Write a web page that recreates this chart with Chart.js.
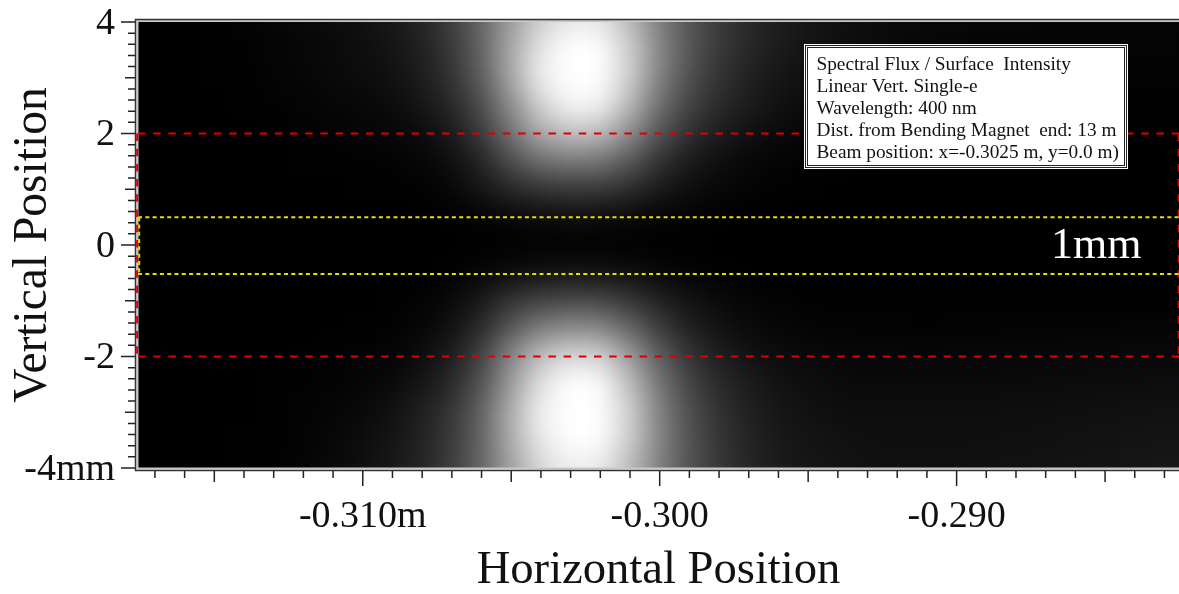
<!DOCTYPE html>
<html lang="en">
  <head>
    <meta charset="UTF-8" />
    <title>Spectral Flux / Surface Intensity</title>
    <script src="https://cdn.jsdelivr.net/npm/chart.js"></script>
    <style>
      body {
        margin: 0;
        background-color: #fff;
      }
      canvas {
        display: block;
      }
    </style>
  </head>
  <body>
    <canvas id="fluxChart" width="1179" height="594"></canvas>

    <script>
      // axis ranges and ticks (m horizontally, mm vertically)
      const xMin = -0.31757;
      const xMax = -0.28251;
      const xLabels = { "-0.31": "-0.310m", "-0.3": "-0.300", "-0.29": "-0.290" };
      const yLabels = { 4: "4", 2: "2", 0: "0", "-2": "-2", "-4": "-4mm" };

      // marker lines
      const redLevels = [2, -2];
      const yellowLevels = [0.5, -0.52];
      const redEdgesX = [-0.3176, -0.28252];
      const yellowEdgeX = -0.31753;

      const legendLines = [
        "Spectral Flux / Surface  Intensity",
        "Linear Vert. Single-e",
        "Wavelength: 400 nm",
        "Dist. from Bending Magnet  end: 13 m",
        "Beam position: x=-0.3025 m, y=0.0 m)",
      ];

      // intensity grid, grey level 0-255
      const gridX = [
        -0.318, -0.317, -0.316, -0.315, -0.314, -0.313, -0.312, -0.311, -0.31,
        -0.309, -0.308, -0.307, -0.306, -0.305, -0.304, -0.303, -0.302, -0.301,
        -0.3, -0.299, -0.298, -0.297, -0.296, -0.295, -0.294, -0.293, -0.292,
        -0.291, -0.29, -0.289, -0.288, -0.287, -0.286, -0.285, -0.284, -0.283,
        -0.282,
      ];
      const gridY = [4, 3.5, 3, 2.5, 2, 1.5, 1, 0.5, 0, -0.5, -1, -1.5, -2, -2.5, -3, -3.5, -4];
      const intensity = [
        [0,0,0,1,3,5,8,11,16,24,36,60,100,155,205,232,230,188,128,85,60,42,30,22,17,13,10,8,7,6,6,5,5,5,5,5,5],
        [0,0,0,1,2,4,7,10,14,20,32,56,98,165,228,255,255,208,138,88,58,40,28,20,15,11,9,7,6,5,5,4,4,4,4,4,4],
        [0,0,0,1,1,4,6,9,12,17,28,50,92,165,238,255,255,210,132,82,52,34,22,16,12,9,7,6,5,4,4,3,3,3,3,3,3],
        [0,0,0,0,1,2,4,6,8,12,21,40,76,140,210,248,245,188,115,70,44,28,18,12,9,7,5,4,3,3,2,2,2,2,2,2,2],
        [0,0,0,0,0,1,2,3,5,7,12,26,58,115,172,198,194,146,88,50,30,18,11,7,5,4,3,2,2,2,1,1,1,1,1,1,1],
        [0,0,0,0,0,0,1,1,2,3,6,15,36,78,114,126,122,92,53,28,15,8,4,3,2,1,1,1,0,0,0,0,0,0,0,0,0],
        [0,0,0,0,0,0,0,0,1,1,2,7,22,42,55,60,60,48,28,15,8,4,2,1,0,0,0,0,0,0,0,0,0,0,0,0,0],
        [0,0,0,0,0,0,0,0,0,0,0,1,4,9,14,16,15,11,6,3,1,0,0,0,0,0,0,0,0,0,0,0,0,0,0,0,0],
        [0,0,0,0,0,0,0,0,0,0,0,0,0,0,0,0,0,0,0,0,0,0,0,0,0,0,0,0,0,0,0,0,0,0,0,0,0],
        [0,0,0,0,0,0,0,0,0,0,0,1,5,10,15,17,16,12,7,3,1,0,0,0,0,0,0,0,0,0,0,0,0,0,0,0,0],
        [0,0,0,0,0,0,0,0,0,1,2,8,24,48,62,68,66,52,32,18,10,5,3,2,1,1,1,1,1,1,1,1,1,1,1,1,1],
        [0,0,0,0,0,0,0,0,1,2,6,16,40,85,122,135,132,100,60,32,18,10,6,4,3,3,3,2,3,3,3,3,3,3,4,4,4],
        [0,0,0,0,0,0,1,2,3,4,12,28,64,130,187,212,207,156,94,52,30,18,12,9,7,6,6,6,6,6,7,7,8,8,8,8,8],
        [0,0,0,0,0,1,2,3,5,10,20,40,80,152,222,255,252,192,118,70,42,28,18,14,11,10,10,10,10,10,10,11,11,12,12,13,13],
        [0,0,0,0,0,1,3,5,9,16,30,52,96,170,240,255,255,210,132,80,50,33,22,17,14,13,13,13,13,13,14,14,15,15,16,17,18],
        [0,0,0,0,1,2,3,7,12,20,34,56,98,170,233,255,255,208,135,84,54,36,25,20,17,15,15,15,15,15,16,16,17,18,19,20,21],
        [0,0,0,0,1,2,4,9,15,23,36,60,100,160,215,238,235,190,130,84,56,38,27,22,19,17,16,16,16,17,17,18,19,20,21,23,24],
      ];

      const heatPoints = [];
      gridY.forEach((y, row) => {
        gridX.forEach((x, col) => {
          heatPoints.push({ x: x, y: y, v: intensity[row][col] });
        });
      });

      function hLine(y) {
        return {
          type: "line",
          data: [
            { x: xMin, y: y },
            { x: xMax, y: y },
          ],
          pointRadius: 0,
          clip: false,
        };
      }
      function vLine(x, y0, y1) {
        return {
          type: "line",
          data: [
            { x: x, y: y0 },
            { x: x, y: y1 },
          ],
          pointRadius: 0,
          clip: false,
        };
      }
      const red = { borderColor: "#e00000", borderWidth: 2, borderDash: [7.5, 7.7] };
      const yellow = { borderColor: "#e6e000", borderWidth: 2, borderDash: [4, 3.3] };

      // smooths the library-drawn cells and puts the frame round them
      const heatSmooth = {
        id: "heatSmooth",
        afterDatasetDraw(chart, args) {
          if (args.index !== chart.data.datasets.length - 1) return;
          const a = chart.chartArea;
          const w = a.right - a.left;
          const h = a.bottom - a.top;
          const m = 50;
          const off = document.createElement("canvas");
          off.width = w + 2 * m;
          off.height = h + 2 * m;
          const o = off.getContext("2d");
          const c = chart.canvas;
          o.drawImage(c, a.left, a.top, w, 1, m, 0, w, m);
          o.drawImage(c, a.left, a.bottom - 1, w, 1, m, m + h, w, m);
          o.drawImage(c, a.left, a.top, w, h, m, m, w, h);
          o.drawImage(off, m, 0, 1, h + 2 * m, 0, 0, m, h + 2 * m);
          o.drawImage(off, m + w - 1, 0, 1, h + 2 * m, m + w, 0, m, h + 2 * m);

          const ctx = chart.ctx;
          ctx.save();
          ctx.beginPath();
          ctx.rect(a.left, a.top, w, h);
          ctx.clip();
          ctx.filter = "blur(13px)";
          ctx.drawImage(off, a.left - m, a.top - m);
          ctx.restore();

          // frame
          ctx.save();
          ctx.strokeStyle = "#c8c8c8";
          ctx.lineWidth = 2;
          ctx.beginPath();
          ctx.moveTo(1179, 21);
          ctx.lineTo(137.5, 21);
          ctx.lineTo(137.5, 468.5);
          ctx.lineTo(1179, 468.5);
          ctx.stroke();
          ctx.strokeStyle = "#333";
          ctx.lineWidth = 1.5;
          ctx.beginPath();
          ctx.moveTo(1179, 19.5);
          ctx.lineTo(135.5, 19.5);
          ctx.lineTo(135.5, 470.5);
          ctx.lineTo(1179, 470.5);
          ctx.stroke();
          ctx.restore();
        },
      };

      // ticks come in three lengths, which the scale options cannot do
      const tickMarks = {
        id: "tickMarks",
        afterDraw(chart) {
          const ctx = chart.ctx;
          const xs = chart.scales.x;
          const ys = chart.scales.y;
          ctx.save();
          ctx.strokeStyle = "#222";
          ctx.lineWidth = 1.5;
          ctx.beginPath();
          for (let i = -317; i <= -283; i++) {
            const px = xs.getPixelForValue(i / 1000);
            const len = i % 10 === 0 ? 15 : i % 5 === 0 ? 11 : 7;
            ctx.moveTo(px, 471);
            ctx.lineTo(px, 471 + len);
          }
          for (let i = -20; i <= 20; i++) {
            const py = ys.getPixelForValue(i / 5);
            const len = i % 10 === 0 ? 14 : i % 5 === 0 ? 10 : 7;
            ctx.moveTo(135, py);
            ctx.lineTo(135 - len, py);
          }
          ctx.stroke();
          ctx.restore();
        },
      };

      const notes = {
        id: "notes",
        afterDatasetsDraw(chart) {
          const ctx = chart.ctx;
          ctx.save();
          ctx.fillStyle = "#fff";
          ctx.fillRect(804, 44, 324, 125);
          ctx.strokeStyle = "#222";
          ctx.lineWidth = 1;
          ctx.strokeRect(805.5, 45.5, 321, 122);
          ctx.lineWidth = 1;
          ctx.strokeRect(807.5, 47.5, 317, 118);
          ctx.fillStyle = "#111";
          ctx.font = '19.3px "Liberation Serif"';
          ctx.textBaseline = "alphabetic";
          legendLines.forEach((line, i) => {
            ctx.fillText(line, 816.5, 69.5 + i * 22);
          });
          ctx.fillStyle = "#fff";
          ctx.font = '44px "Liberation Serif"';
          ctx.fillText("1mm", 1051, 258);
          ctx.restore();
        },
      };

      new Chart(document.getElementById("fluxChart"), {
        type: "scatter",
        data: {
          datasets: [
            Object.assign(hLine(yellowLevels[0]), yellow),
            Object.assign(hLine(yellowLevels[1]), yellow),
            Object.assign(vLine(yellowEdgeX, yellowLevels[0], yellowLevels[1]), yellow),
            Object.assign(hLine(redLevels[0]), red),
            Object.assign(hLine(redLevels[1]), red),
            Object.assign(vLine(redEdgesX[0], redLevels[0], redLevels[1]), red),
            Object.assign(vLine(redEdgesX[1], redLevels[0], redLevels[1]), red),
            {
              data: heatPoints,
              pointStyle: "rect",
              pointRadius: 23,
              pointBorderWidth: 0,
              backgroundColor: (ctx) => {
                const v = ctx.raw ? ctx.raw.v : 0;
                return "rgb(" + v + "," + v + "," + v + ")";
              },
            },
          ],
        },
        plugins: [heatSmooth, tickMarks, notes],
        options: {
          responsive: false,
          animation: false,
          layout: { autoPadding: false, padding: { top: 22, left: 0, right: 0, bottom: 0 } },
          plugins: { legend: { display: false }, tooltip: { enabled: false } },
          scales: {
            x: {
              type: "linear",
              min: xMin,
              max: xMax,
              afterBuildTicks: (scale) => {
                scale.ticks = Object.keys(xLabels).map((k) => ({ value: Number(k) }));
              },
              afterFit: (scale) => {
                scale.height = 126;
                scale.paddingLeft = 0;
                scale.paddingRight = 0;
              },
              grid: { display: false, drawTicks: false },
              border: { display: false },
              ticks: {
                autoSkip: false,
                maxRotation: 0,
                padding: 26,
                color: "#111",
                font: { family: "Liberation Serif", size: 38 },
                callback: (value) => xLabels[String(value)],
              },
              title: {
                display: true,
                text: "Horizontal Position",
                color: "#111",
                font: { family: "Liberation Serif", size: 46.6, lineHeight: 1 },
                padding: { top: 0, bottom: 0 },
              },
            },
            y: {
              type: "linear",
              min: -4,
              max: 4,
              afterBuildTicks: (scale) => {
                scale.ticks = Object.keys(yLabels).map((k) => ({ value: Number(k) }));
              },
              afterFit: (scale) => {
                scale.width = 138;
                scale.paddingTop = 0;
                scale.paddingBottom = 0;
              },
              grid: { display: false, drawTicks: false },
              border: { display: false },
              ticks: {
                autoSkip: false,
                padding: 23,
                labelOffset: 2,
                color: "#111",
                font: { family: "Liberation Serif", size: 38 },
                callback: (value) => yLabels[String(value)],
              },
              title: {
                display: true,
                text: "Vertical Position",
                color: "#111",
                font: { family: "Liberation Serif", size: 47.5, lineHeight: 1 },
                padding: { top: 10, bottom: 0 },
              },
            },
          },
        },
      });
    </script>
  </body>
</html>
